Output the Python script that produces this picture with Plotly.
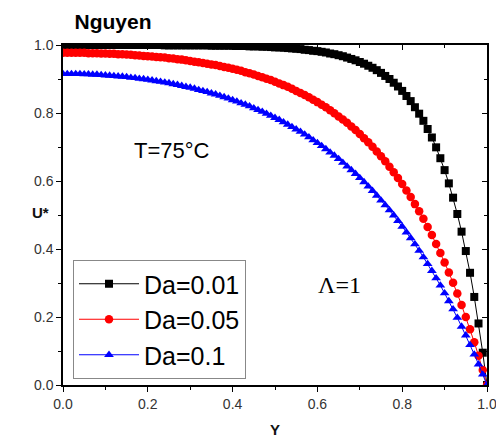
import plotly.graph_objects as go

Y = [0.00, 0.01, 0.02, 0.03, 0.04, 0.05, 0.06, 0.07, 0.08, 0.09,
     0.10, 0.11, 0.12, 0.13, 0.14, 0.15, 0.16, 0.17, 0.18, 0.19,
     0.20, 0.21, 0.22, 0.23, 0.24, 0.25, 0.26, 0.27, 0.28, 0.29,
     0.30, 0.31, 0.32, 0.33, 0.34, 0.35, 0.36, 0.37, 0.38, 0.39,
     0.40, 0.41, 0.42, 0.43, 0.44, 0.45, 0.46, 0.47, 0.48, 0.49,
     0.50, 0.51, 0.52, 0.53, 0.54, 0.55, 0.56, 0.57, 0.58, 0.59,
     0.60, 0.61, 0.62, 0.63, 0.64, 0.65, 0.66, 0.67, 0.68, 0.69,
     0.70, 0.71, 0.72, 0.73, 0.74, 0.75, 0.76, 0.77, 0.78, 0.79,
     0.80, 0.81, 0.82, 0.83, 0.84, 0.85, 0.86, 0.87, 0.88, 0.89,
     0.90, 0.91, 0.92, 0.93, 0.94, 0.95, 0.96, 0.97, 0.98, 0.99,
     1.00]

U_da001 = [1.000, 1.000, 1.000, 1.000, 1.000, 1.000, 1.000, 1.000, 1.000, 1.000,
           1.000, 1.000, 1.000, 1.000, 1.000, 1.000, 1.000, 1.000, 1.000, 1.000,
           1.000, 1.000, 1.000, 1.000, 0.999, 0.999, 0.999, 0.999, 0.999, 0.999,
           0.999, 0.999, 0.999, 0.999, 0.999, 0.998, 0.998, 0.998, 0.998, 0.998,
           0.998, 0.997, 0.997, 0.997, 0.996, 0.996, 0.996, 0.995, 0.995, 0.994,
           0.993, 0.993, 0.992, 0.991, 0.990, 0.989, 0.988, 0.986, 0.985, 0.983,
           0.982, 0.980, 0.978, 0.975, 0.973, 0.970, 0.967, 0.963, 0.959, 0.955,
           0.950, 0.945, 0.939, 0.933, 0.926, 0.918, 0.909, 0.900, 0.889, 0.878,
           0.865, 0.850, 0.835, 0.817, 0.798, 0.777, 0.753, 0.728, 0.699, 0.667,
           0.632, 0.593, 0.551, 0.503, 0.451, 0.394, 0.330, 0.259, 0.181, 0.095,
           0.000]

U_da005 = [0.977, 0.977, 0.977, 0.977, 0.977, 0.977, 0.976, 0.976, 0.976, 0.975,
           0.975, 0.974, 0.974, 0.973, 0.973, 0.972, 0.971, 0.970, 0.969, 0.968,
           0.967, 0.966, 0.965, 0.964, 0.963, 0.961, 0.960, 0.958, 0.957, 0.955,
           0.953, 0.951, 0.949, 0.947, 0.945, 0.943, 0.941, 0.938, 0.935, 0.933,
           0.930, 0.927, 0.924, 0.920, 0.917, 0.913, 0.909, 0.905, 0.901, 0.897,
           0.892, 0.887, 0.882, 0.877, 0.871, 0.865, 0.859, 0.853, 0.846, 0.839,
           0.832, 0.824, 0.817, 0.808, 0.799, 0.790, 0.781, 0.771, 0.760, 0.750,
           0.738, 0.726, 0.714, 0.701, 0.687, 0.673, 0.658, 0.642, 0.626, 0.609,
           0.591, 0.572, 0.553, 0.532, 0.511, 0.489, 0.465, 0.441, 0.415, 0.388,
           0.360, 0.331, 0.301, 0.269, 0.235, 0.200, 0.164, 0.126, 0.086, 0.044,
           0.000]

U_da01 = [0.915, 0.915, 0.915, 0.915, 0.915, 0.914, 0.914, 0.913, 0.913, 0.912,
          0.911, 0.910, 0.909, 0.908, 0.907, 0.906, 0.904, 0.903, 0.901, 0.900,
          0.898, 0.896, 0.894, 0.892, 0.890, 0.888, 0.885, 0.883, 0.880, 0.877,
          0.875, 0.872, 0.868, 0.865, 0.862, 0.858, 0.855, 0.851, 0.847, 0.843,
          0.838, 0.834, 0.829, 0.825, 0.820, 0.814, 0.809, 0.804, 0.798, 0.792,
          0.786, 0.780, 0.773, 0.766, 0.759, 0.752, 0.745, 0.737, 0.729, 0.720,
          0.712, 0.703, 0.694, 0.684, 0.675, 0.665, 0.654, 0.643, 0.632, 0.621,
          0.609, 0.597, 0.584, 0.571, 0.557, 0.543, 0.529, 0.514, 0.499, 0.483,
          0.466, 0.449, 0.432, 0.414, 0.395, 0.376, 0.356, 0.336, 0.314, 0.293,
          0.270, 0.247, 0.223, 0.198, 0.172, 0.146, 0.118, 0.090, 0.061, 0.031,
          0.000]

series_names = ["Da=0.01", "Da=0.05", "Da=0.1"]
series_values = [U_da001, U_da005, U_da01]
colors = ["#000000", "#ff0000", "#0000ff"]
symbols = ["square", "circle", "triangle-up"]
msizes = [8, 8.5, 8.5]

FONT = "Liberation Sans, Arial, sans-serif"

fig = go.Figure()
for name, vals, c, s, ms in zip(series_names, series_values, colors, symbols, msizes):
    fig.add_trace(go.Scatter(
        x=Y, y=vals, name=name, mode="lines+markers",
        line=dict(color=c, width=1),
        marker=dict(color=c, symbol=s, size=ms, line=dict(width=0)),
    ))

# invisible trace to hold mirrored (inward-tick) axes
fig.add_trace(go.Scatter(x=[None], y=[None], xaxis="x2", yaxis="y2",
                         showlegend=False, hoverinfo="skip"))

axis_common = dict(
    range=[0, 1], showgrid=False, zeroline=False, automargin=False,
    ticklabeloverflow="allow",
    showline=True, linecolor="#000", linewidth=1.5, mirror=True,
    ticks="outside", ticklen=5, tickwidth=1, tickcolor="#000",
    dtick=0.2, tick0=0, tickformat=".1f",
    tickfont=dict(family=FONT, size=14, color="#333"),
    minor=dict(ticks="outside", ticklen=3, dtick=0.1, tick0=0, tickcolor="#000", tickwidth=1),
)
mirror_common = dict(
    range=[0, 1], showgrid=False, zeroline=False, showline=False, automargin=False,
    ticks="inside", ticklen=5, tickwidth=1, tickcolor="#000",
    dtick=0.2, tick0=0, showticklabels=False,
    minor=dict(ticks="inside", ticklen=3, dtick=0.1, tick0=0, tickcolor="#000", tickwidth=1),
)

fig.update_layout(
    width=496, height=438,
    margin=dict(l=63, r=9, t=45, b=53),
    paper_bgcolor="white", plot_bgcolor="white",
    font=dict(family=FONT, color="#000"),
    xaxis=dict(axis_common, title=dict(text="<b>Y</b>", font=dict(family=FONT, size=15, color="#111"), standoff=14)),
    yaxis=dict(axis_common),
    xaxis2=dict(mirror_common, overlaying="x", side="top", anchor="y"),
    yaxis2=dict(mirror_common, overlaying="y", side="right", anchor="x"),
    title=dict(text="<b>Nguyen</b>", x=113 / 496, xanchor="center", xref="container",
               y=1 - 22 / 438, yanchor="middle", yref="container",
               font=dict(family=FONT, size=21, color="#000")),
    legend=dict(
        x=(73 - 63) / 424, y=(385 - 260) / 340, xanchor="left", yanchor="top",
        bgcolor="white", bordercolor="#888", borderwidth=1,
        font=dict(family=FONT, size=25, color="#000"),
        itemwidth=60, tracegroupgap=0,
    ),
    annotations=[
        dict(text="<b>U*</b>", x=(40 - 63) / 424, y=(385 - 212) / 340, xref="paper", yref="paper",
             showarrow=False, xanchor="center", yanchor="middle",
             font=dict(family=FONT, size=15, color="#111")),
        dict(text="T=75°C", x=0.257, y=0.691, xref="x", yref="y", showarrow=False,
             font=dict(family=FONT, size=22, color="#000")),
        dict(text="Λ=1", x=0.653, y=0.294, xref="x", yref="y", showarrow=False,
             font=dict(family="Liberation Serif, Times New Roman, serif", size=24, color="#000")),
    ],
)

fig.write_html("out.html")
